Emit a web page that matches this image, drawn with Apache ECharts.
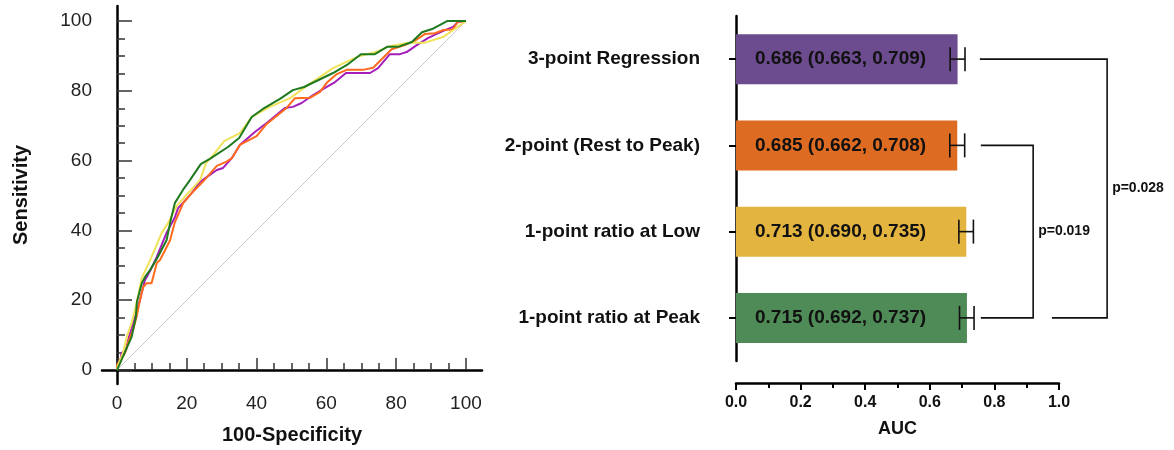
<!DOCTYPE html>
<html>
<head>
<meta charset="utf-8">
<title>ROC and AUC</title>
<script src="https://cdn.jsdelivr.net/npm/echarts@6/dist/echarts.min.js"></script>
<style>
  html, body { margin: 0; padding: 0; background: #fff; }
  #chart { width: 1174px; height: 450px; }
</style>
</head>
<body>
<div id="chart"></div>
<script>
// ROC curves, [100-Specificity, Sensitivity]
var roc3Point = [[0,0],[0,0.6],[0.9,2.3],[1.3,4.9],[2.6,5.7],[3.4,9.5],[4.2,12.0],[5.6,16.6],[6.6,20.1],[8.0,25.8],[8.5,26.6],[9.9,29.2],[11.4,32.4],[14.2,39.3],[16.6,43.8],[17.5,46.4],[18.9,47.9],[21.4,50.7],[23.8,53.9],[26.6,55.9],[28.6,57.3],[30.4,57.9],[32.9,60.7],[35.2,64.5],[39.5,68.2],[42.9,70.8],[48.1,75.1],[50.4,75.4],[52.9,76.5],[56.2,78.8],[60.1,81.1],[62.5,82.5],[65.6,85.1],[72.5,85.1],[74.8,86.5],[78.2,90.5],[81.1,90.5],[83.0,91.1],[85.9,93.1],[89.1,95.1],[91.6,96.3],[94.0,97.4],[96.3,98.3],[97.7,99.7],[100,100]];
var roc2Point = [[0,0],[0,1.4],[0.9,2.9],[2.3,4.9],[3.2,8.0],[4.6,11.5],[5.6,15.2],[6.6,20.1],[7.5,23.8],[8.5,24.9],[9.9,24.9],[11.4,30.7],[12.3,31.5],[13.8,34.4],[15.2,37.2],[16.6,42.4],[19.0,47.9],[21.4,50.7],[24.6,53.9],[28.6,58.5],[31.4,59.7],[32.9,60.7],[35.2,64.5],[40.0,67.0],[42.9,70.5],[48.6,75.1],[51.0,77.9],[55.3,78.0],[58.2,79.7],[60.1,82.3],[63.0,84.8],[65.8,86.0],[70.5,86.0],[73.4,86.6],[76.2,89.4],[78.7,91.9],[82.5,93.1],[85.4,94.4],[88.3,96.3],[91.1,96.5],[93.4,97.4],[96.2,97.6],[97.7,99.8],[100,100]];
var rocLow = [[0,0],[0.3,1.4],[1.7,4.9],[2.8,9.5],[4.2,13.5],[5.6,19.2],[7.1,26.4],[9.5,31.5],[12.8,39.3],[14.6,42.1],[17.1,47.0],[20.1,50.4],[23.8,54.4],[25.5,59.3],[27.1,61.0],[30.7,65.6],[35.2,67.9],[38.6,72.5],[43.8,75.4],[49.6,77.9],[54.4,81.4],[61.9,86.5],[66.8,88.8],[69.6,90.0],[74.4,91.2],[78.2,92.8],[83.4,93.8],[88.3,93.8],[93.4,95.4],[96.8,97.7],[100,100]];
var rocPeak = [[0,0],[1.3,2.9],[2.3,5.2],[4.2,9.5],[5.4,15.2],[5.7,19.5],[7.1,24.9],[8.0,26.6],[9.5,28.7],[11.7,32.4],[14.2,37.2],[15.4,43.0],[16.6,47.9],[18.9,51.6],[20.9,54.4],[24.0,59.0],[26.6,60.5],[31.8,63.9],[35.0,66.5],[38.6,72.5],[41.8,74.8],[46.7,77.7],[50.4,80.2],[53.6,81.1],[61.9,85.1],[65.9,87.4],[69.9,90.5],[73.9,90.5],[77.4,92.6],[80.5,92.6],[84.5,94.0],[87.4,96.8],[90.3,97.7],[94.6,100],[100,100]];
var chanceLine = [[0,0],[100,100]];
var rocMajorTicks = [0, 20, 40, 60, 80, 100];
var rocMinorTicks = [5,10,15,25,30,35,45,50,55,65,70,75,85,90,95];

// AUC bars
var categories = ['3-point Regression', '2-point (Rest to Peak)', '1-point ratio at Low', '1-point ratio at Peak'];
var aucValues = [0.686, 0.685, 0.713, 0.715];
var ciLower = [0.663, 0.662, 0.690, 0.692];
var ciUpper = [0.709, 0.708, 0.735, 0.737];
var pairFrom = [1, 0];
var pairTo = [3, 3];
var pLabels = ['p=0.019', 'p=0.028'];

var barColors = ['#6c4b8e', '#de6b22', '#e3b43f', '#4f8b56'];
var rocColors = ['#a41fba', '#ff6a1c', '#f0e25a', '#1f7a1f'];
var FONT = '"Liberation Sans", Arial, sans-serif';

// where the bracket lines sit on the AUC axis
var bracketLayout = [
  { start: 0.758, mid: 0.92, end: 0.758 },
  { start: 0.755, mid: 1.149, end: 0.978 }
];

var chart = echarts.init(document.getElementById('chart'));

function rocLine(name, data, color) {
  return {
    name: name,
    type: 'line',
    xAxisIndex: 0,
    yAxisIndex: 0,
    data: data,
    showSymbol: false,
    symbol: 'none',
    lineStyle: { color: color, width: 2 },
    z: 3
  };
}

var option = {
  animation: false,
  textStyle: { fontFamily: FONT },
  grid: [
    { left: 102, top: 6, width: 380, height: 378 },
    { left: 736, top: 16, width: 323, height: 345 }
  ],
  xAxis: [
    {
      gridIndex: 0, type: 'value', min: -4.3, max: 104.6, position: 'bottom',
      axisLine: { show: true, lineStyle: { color: '#000', width: 2.5 } },
      axisTick: { show: true, inside: true, length: 12, customValues: rocMajorTicks, lineStyle: { color: '#333', width: 1.5 } },
      axisLabel: { customValues: rocMajorTicks, margin: 10, fontSize: 19, color: '#222', fontFamily: FONT },
      splitLine: { show: false },
      name: '100-Specificity', nameLocation: 'middle', nameGap: 41,
      nameTextStyle: { fontSize: 20, fontWeight: 'bold', color: '#111', fontFamily: FONT }
    },
    {
      gridIndex: 0, type: 'value', min: -4.3, max: 104.6, position: 'bottom',
      axisLine: { show: false },
      axisTick: { show: true, inside: true, length: 7, customValues: rocMinorTicks, lineStyle: { color: '#333', width: 1.5 } },
      axisLabel: { show: false },
      splitLine: { show: false }
    },
    {
      gridIndex: 1, type: 'value', min: 0, max: 1, interval: 0.2, offset: 22,
      axisLine: { show: true, lineStyle: { color: '#000', width: 2.5 } },
      axisTick: { show: true, length: 7, lineStyle: { color: '#000', width: 2 } },
      minorTick: { show: true, splitNumber: 2, length: 5, lineStyle: { color: '#000', width: 2 } },
      axisLabel: {
        margin: 12, fontSize: 16, fontWeight: 'bold', color: '#111', fontFamily: FONT,
        formatter: function (v) { return v.toFixed(1); }
      },
      splitLine: { show: false },
      name: 'AUC', nameLocation: 'middle', nameGap: 37,
      nameTextStyle: { fontSize: 18, fontWeight: 'bold', color: '#111', fontFamily: FONT }
    }
  ],
  yAxis: [
    {
      gridIndex: 0, type: 'value', min: -4, max: 104.3, position: 'left',
      axisLine: { show: true, lineStyle: { color: '#000', width: 2.5 } },
      axisTick: { show: true, inside: true, length: 15, customValues: rocMajorTicks, lineStyle: { color: '#333', width: 1.5 } },
      axisLabel: { customValues: rocMajorTicks, margin: 10, fontSize: 19, color: '#222', fontFamily: FONT },
      splitLine: { show: false },
      name: 'Sensitivity', nameLocation: 'middle', nameGap: 71,
      nameTextStyle: { fontSize: 20, fontWeight: 'bold', color: '#111', fontFamily: FONT }
    },
    {
      gridIndex: 0, type: 'value', min: -4, max: 104.3, position: 'left',
      axisLine: { show: false },
      axisTick: { show: true, inside: true, length: 8, customValues: rocMinorTicks, lineStyle: { color: '#333', width: 1.5 } },
      axisLabel: { show: false },
      splitLine: { show: false }
    },
    {
      gridIndex: 1, type: 'category', data: categories, inverse: true, offset: 17,
      axisLine: { show: true, lineStyle: { color: '#000', width: 2.5 } },
      axisTick: { show: true, alignWithLabel: true, length: 7, lineStyle: { color: '#000', width: 2 } },
      axisLabel: { margin: 19, fontSize: 19, fontWeight: 'bold', color: '#111', fontFamily: FONT },
      splitLine: { show: false }
    }
  ],
  series: [
    {
      name: 'chance',
      type: 'line',
      xAxisIndex: 0,
      yAxisIndex: 0,
      data: chanceLine,
      showSymbol: false,
      symbol: 'none',
      lineStyle: { color: '#c8c8c8', width: 1 },
      z: 2
    },
    rocLine(categories[0], roc3Point, rocColors[0]),
    rocLine(categories[1], roc2Point, rocColors[1]),
    rocLine(categories[2], rocLow, rocColors[2]),
    rocLine(categories[3], rocPeak, rocColors[3]),
    {
      name: 'AUC',
      type: 'bar',
      xAxisIndex: 2,
      yAxisIndex: 2,
      barWidth: 50,
      data: aucValues.map(function (v, i) {
        return { value: v, itemStyle: { color: barColors[i] } };
      }),
      label: {
        show: true,
        position: 'insideLeft',
        distance: 19,
        fontSize: 19,
        fontWeight: 'bold',
        color: '#111',
        fontFamily: FONT,
        formatter: function (p) {
          var i = p.dataIndex;
          return aucValues[i].toFixed(3) + ' (' + ciLower[i].toFixed(3) + ', ' + ciUpper[i].toFixed(3) + ')';
        }
      }
    },
    {
      name: 'CI',
      type: 'custom',
      xAxisIndex: 2,
      yAxisIndex: 2,
      clip: false,
      encode: { x: [1, 2], y: 0 },
      data: aucValues.map(function (v, i) { return [i, ciLower[i], ciUpper[i]]; }),
      renderItem: function (params, api) {
        var lo = api.coord([api.value(1), api.value(0)]);
        var hi = api.coord([api.value(2), api.value(0)]);
        var h = 12;
        var st = { stroke: '#111', lineWidth: 1.6 };
        return {
          type: 'group',
          children: [
            { type: 'line', shape: { x1: lo[0], y1: lo[1], x2: hi[0], y2: hi[1] }, style: st },
            { type: 'line', shape: { x1: lo[0], y1: lo[1] - h, x2: lo[0], y2: lo[1] + h }, style: st },
            { type: 'line', shape: { x1: hi[0], y1: hi[1] - h, x2: hi[0], y2: hi[1] + h }, style: st }
          ]
        };
      },
      z: 4
    },
    {
      name: 'p',
      type: 'custom',
      xAxisIndex: 2,
      yAxisIndex: 2,
      clip: false,
      data: pairFrom.map(function (f, i) { return [f, pairTo[i]]; }),
      renderItem: function (params, api) {
        var L = bracketLayout[params.dataIndex];
        var a = api.coord([L.start, api.value(0)]);
        var b = api.coord([L.mid, api.value(0)]);
        var c = api.coord([L.mid, api.value(1)]);
        var d = api.coord([L.end, api.value(1)]);
        return {
          type: 'group',
          children: [
            {
              type: 'polyline',
              shape: { points: [a, b, c, d] },
              style: { stroke: '#111', lineWidth: 1.6, fill: null }
            },
            {
              type: 'text',
              x: b[0] + 5,
              y: (b[1] + c[1]) / 2,
              style: {
                text: pLabels[params.dataIndex],
                font: 'bold 14px ' + FONT,
                fill: '#111',
                textAlign: 'left',
                textVerticalAlign: 'middle'
              }
            }
          ]
        };
      },
      z: 4
    }
  ]
};

chart.setOption(option);
</script>
</body>
</html>
